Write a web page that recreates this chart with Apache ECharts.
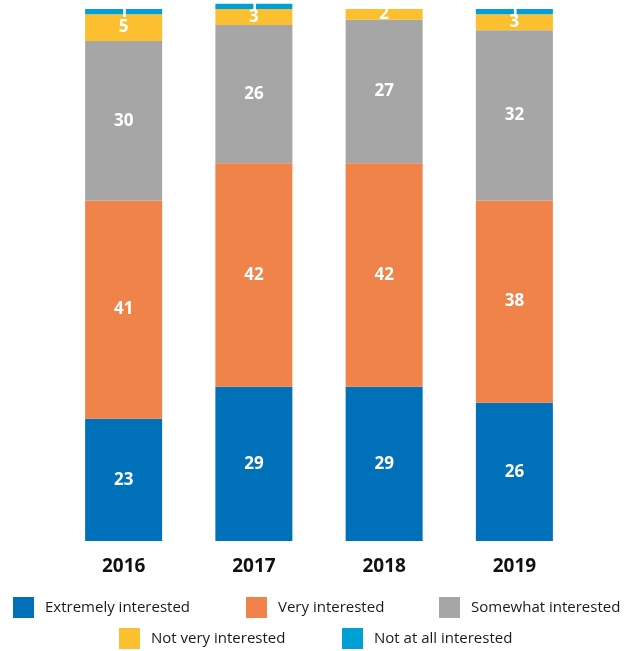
<!DOCTYPE html>
<html>
<head>
<meta charset="utf-8">
<script src="https://cdn.jsdelivr.net/npm/echarts@6/dist/echarts.min.js"></script>
<style>
  html, body { margin: 0; padding: 0; background: #ffffff; }
  #chart { width: 626px; height: 651px; }
</style>
</head>
<body>
<div id="chart"></div>
<script>
// Survey years along the x axis
const years = ['2016', '2017', '2018', '2019'];

// Share of respondents per interest level (%)
const extremelyInterested = [23, 29, 29, 26];
const veryInterested      = [41, 42, 42, 38];
const somewhatInterested  = [30, 26, 27, 32];
const notVeryInterested   = [5, 3, 2, 3];
const notAtAllInterested  = [1, 1, null, 1];

const seriesNames = [
  'Extremely interested',
  'Very interested',
  'Somewhat interested',
  'Not very interested',
  'Not at all interested'
];
const seriesData = [
  extremelyInterested,
  veryInterested,
  somewhatInterested,
  notVeryInterested,
  notAtAllInterested
];
const colors = ['#0070B8', '#EF8349', '#A6A6A6', '#FBBF30', '#009FD6'];

const FONT = '"Open Sans", "DejaVu Sans", sans-serif';

const chart = echarts.init(document.getElementById('chart'), null, { renderer: 'canvas' });

const series = seriesNames.map((name, i) => ({
  name: name,
  type: 'bar',
  stack: 'total',
  barWidth: 77,
  clip: false,
  data: seriesData[i],
  itemStyle: { color: colors[i] },
  label: {
    show: true,
    position: 'inside',
    color: '#ffffff',
    fontFamily: FONT,
    fontWeight: 'bold',
    fontSize: 17
  }
}));

// One legend block per entry, laid out in two rows
const legendSpots = [
  { left: 13,  top: 597 },
  { left: 246, top: 597 },
  { left: 439, top: 597 },
  { left: 119, top: 628 },
  { left: 342, top: 628 }
];
const legends = seriesNames.map((name, i) => ({
  data: [name],
  left: legendSpots[i].left,
  top: legendSpots[i].top,
  padding: 0,
  itemWidth: 21,
  itemHeight: 21,
  icon: 'rect',
  selectedMode: false,
  textStyle: {
    fontFamily: FONT,
    fontSize: 15,
    color: '#1a1a1a',
    padding: [0, 0, 0, 6]
  }
}));

chart.setOption({
  animation: false,
  color: colors,
  grid: { left: 58.5, right: 46.5, top: 9, bottom: 110 },
  legend: legends,
  xAxis: {
    type: 'category',
    data: years,
    axisLine: { show: false },
    axisTick: { show: false },
    axisLabel: {
      margin: 16,
      color: '#111111',
      fontFamily: FONT,
      fontWeight: 'bold',
      fontSize: 19
    }
  },
  yAxis: {
    type: 'value',
    min: 0,
    max: 100,
    show: false,
    splitLine: { show: false }
  },
  series: series
});
</script>
</body>
</html>
